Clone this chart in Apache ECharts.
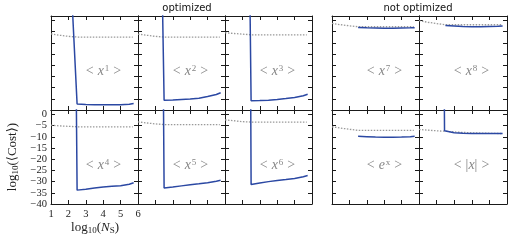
<!DOCTYPE html>
<html><head><meta charset="utf-8">
<script src="https://cdn.jsdelivr.net/npm/echarts@6/dist/echarts.min.js"></script>
<style>html,body{margin:0;padding:0;background:#fff}#c{width:512px;height:241px}</style>
</head><body><div id="c"></div>
<script>
// ---------- data ----------
const groupTitles = ['optimized', 'not optimized'];
const xTickValues = [1, 2, 3, 4, 5, 6];
const yTickValues = [0, -5, -10, -15, -20, -25, -30, -35, -40];
// panel order: top row (x1,x2,x3 | x7,x8), bottom row (x4,x5,x6 | e^x,|x|)
const panelBase = ['x', 'x', 'x', 'x', 'x', 'x', 'x', 'x', 'e', '|x|'];
const panelPower = ['1', '2', '3', '7', '8', '4', '5', '6', 'x', ''];

const dottedX = [1, 1.5, 2, 2.5, 3, 3.5, 4, 4.5, 5, 5.5, 5.7];
const dotted_x1 = [-6.0, -6.6, -7.1, -7.4, -7.4, -7.4, -7.4, -7.4, -7.4, -7.4, -7.4];
const dotted_x2 = [-6.1, -6.6, -7.1, -7.4, -7.4, -7.4, -7.4, -7.4, -7.4, -7.4, -7.4];
const dotted_x3 = [-5.5, -5.8, -6.1, -6.4, -6.4, -6.4, -6.4, -6.4, -6.4, -6.4, -6.4];
const dotted_x7 = [-1.3, -1.9, -2.4, -2.8, -2.8, -2.8, -2.8, -2.8, -2.8, -2.8, -2.8];
const dotted_x8 = [-0.1, -0.8, -1.4, -1.9, -1.9, -1.9, -1.9, -1.9, -1.9, -1.9, -1.9];
const dotted_x4 = [-4.8, -5.1, -5.3, -5.5, -5.5, -5.5, -5.5, -5.5, -5.5, -5.5, -5.5];
const dotted_x5 = [-3.3, -3.8, -4.2, -4.5, -4.5, -4.5, -4.5, -4.5, -4.5, -4.5, -4.5];
const dotted_x6 = [-2.4, -2.8, -3.2, -3.4, -3.4, -3.4, -3.4, -3.4, -3.4, -3.4, -3.4];
const dotted_ex = [-5.5, -6.1, -6.6, -7.1, -7.1, -7.1, -7.1, -7.1, -7.1, -7.1, -7.1];
const dotted_abs = [-6.7, -7.0, -7.3, -7.5, -7.8, -8.0, -8.2, -8.3, -8.4, -8.5, -8.5];

const blueX = [2.5, 3, 3.5, 4, 4.5, 5, 5.5, 5.75];
const blue_x1 = [-37.3, -37.5, -37.6, -37.7, -37.7, -37.6, -37.4, -37.1];
const blue_x2 = [-35.6, -35.5, -35.3, -35.1, -34.7, -34.0, -33.1, -32.3];
const blue_x3 = [-35.9, -35.8, -35.6, -35.3, -34.9, -34.4, -33.6, -33.0];
const blue_x7 = [-3.1, -3.3, -3.4, -3.5, -3.5, -3.4, -3.3, -3.2];
const blue_x8 = [-2.3, -2.5, -2.7, -2.8, -2.8, -2.7, -2.6, -2.5];
const blue_x4 = [-33.8, -33.4, -32.9, -32.4, -32.1, -31.8, -31.2, -30.5];
const blue_x5 = [-32.8, -32.4, -31.9, -31.4, -31.0, -30.5, -29.8, -29.4];
const blue_x6 = [-31.3, -30.6, -30.0, -29.5, -29.1, -28.6, -27.8, -27.3];
const blue_ex = [-9.7, -9.9, -10.1, -10.2, -10.2, -10.1, -9.9, -9.7];
const blue_abs = [-7.6, -8.2, -8.4, -8.5, -8.5, -8.5, -8.5, -8.5];
// first (off-scale) points of the blue curves, before the drop
const blueStart_x1 = [[2.2, 10]];
const blueStart_x2 = [[2.4, 10.3]];
const blueStart_x3 = [[2.4, 32]];
const blueStart_x7 = [];
const blueStart_x8 = [];
const blueStart_x4 = [[2.44, 20]];
const blueStart_x5 = [[2.45, 20]];
const blueStart_x6 = [[2.47, 20]];
const blueStart_ex = [];
const blueStart_abs = [[2.44, 5], [2.45, -7.3]];

const dottedSets = [dotted_x1, dotted_x2, dotted_x3, dotted_x7, dotted_x8, dotted_x4, dotted_x5, dotted_x6, dotted_ex, dotted_abs];
const blueSets = [blue_x1, blue_x2, blue_x3, blue_x7, blue_x8, blue_x4, blue_x5, blue_x6, blue_ex, blue_abs];
const blueStarts = [blueStart_x1, blueStart_x2, blueStart_x3, blueStart_x7, blueStart_x8, blueStart_x4, blueStart_x5, blueStart_x6, blueStart_ex, blueStart_abs];

// ---------- layout ----------
const colLeft = [51, 138, 225, 332, 419];
const colW = [87, 87, 87, 87, 88];
const rowTop = [16, 110];
const rowH = 94;
const AX = '#1a1a1a';
const SERIF = 'Liberation Serif, DejaVu Serif, serif';
const LBL = '#858585';

const grids = [], xAxes = [], yAxes = [], series = [], graphics = [];
for (let i = 0; i < 10; i++) {
  const r = Math.floor(i / 5), c = i % 5;
  grids.push({left: colLeft[c], top: rowTop[r], width: colW[c], height: rowH, containLabel: false, outerBoundsMode: 'none', show: false});
  const labeled = (i === 5);
  const lab = {show: labeled, fontFamily: SERIF, fontSize: 10.5, color: '#222', margin: 5};
  const common = {type: 'value', gridIndex: i, min: 1, max: 6, interval: 1,
    axisLine: {show: true, onZero: false, lineStyle: {color: AX, width: 1}},
    axisTick: {show: true, inside: true, length: 4, lineStyle: {color: AX, width: 1}},
    splitLine: {show: false}};
  xAxes.push(Object.assign({}, common, {position: 'bottom', axisLabel: Object.assign({}, lab, {showMinLabel: true, showMaxLabel: true, formatter: v => xTickValues.includes(v) ? String(v) : ''})}));
  xAxes.push(Object.assign({}, common, {position: 'top', axisLabel: {show: false}}));
  const ycommon = Object.assign({}, common, {min: -40, max: 2, interval: 5});
  yAxes.push(Object.assign({}, ycommon, {position: 'left', axisLabel: Object.assign({}, lab, {margin: 4, formatter: v => yTickValues.includes(v) ? (v < 0 ? '\u2212' + (-v) : String(v)) : ''})}));
  yAxes.push(Object.assign({}, ycommon, {position: 'right', axisLabel: {show: false}}));

  series.push({type: 'line', xAxisIndex: 2 * i, yAxisIndex: 2 * i, showSymbol: false, silent: true, clip: true,
    data: dottedX.map((x, k) => [x, dottedSets[i][k]]),
    lineStyle: {color: '#999', width: 1.3, type: [1.5, 1.5]}});
  series.push({type: 'line', xAxisIndex: 2 * i, yAxisIndex: 2 * i, showSymbol: false, silent: true, clip: true,
    data: blueStarts[i].concat(blueX.map((x, k) => [x, blueSets[i][k]])),
    lineStyle: {color: '#2b48a3', width: 1.5}});

  const base = panelBase[i], pw = panelPower[i];
  let txt;
  if (base === '|x|') txt = '{r|<}{n||}{m|x}{n||}{q|>}';
  else txt = '{r|<}{m|' + base + '}{s|' + pw + '}{q|>}';
  graphics.push({type: 'text', x: colLeft[c] + 52.5, y: rowTop[r] + 55,
    style: {text: txt, fill: LBL, align: 'center', verticalAlign: 'middle',
      rich: {
        r: {fontFamily: SERIF, fontSize: 14, fill: LBL, padding: [0, 4, 0, 0]},
        q: {fontFamily: SERIF, fontSize: 14, fill: LBL, padding: [0, 0, 0, 4]},
        n: {fontFamily: SERIF, fontSize: 14, fill: LBL},
        m: {fontFamily: SERIF, fontStyle: 'italic', fontSize: 14, fill: LBL},
        s: {fontFamily: SERIF, fontSize: 9, fill: LBL, verticalAlign: 'top', lineHeight: 8, padding: [0, 0, 0, 1]}
      }}});
}

graphics.push({type: 'text', x: 187, y: 8, style: {text: groupTitles[0], font: '10px DejaVu Sans', fill: '#111', align: 'center', verticalAlign: 'middle'}});
graphics.push({type: 'text', x: 418, y: 8, style: {text: groupTitles[1], font: '10px DejaVu Sans', fill: '#111', align: 'center', verticalAlign: 'middle'}});
// x axis title
graphics.push({type: 'text', x: 95, y: 228, style: {text: '{a|log}{b|10}{a|(}{i|N}{b|S}{a|)}', align: 'center', verticalAlign: 'middle',
  rich: {a: {fontFamily: SERIF, fontSize: 13, fill: '#222', lineHeight: 14},
         i: {fontFamily: SERIF, fontStyle: 'italic', fontSize: 13, fill: '#222', lineHeight: 14},
         b: {fontFamily: SERIF, fontSize: 9, fill: '#222', verticalAlign: 'bottom', lineHeight: 6}}}});
// y axis title
graphics.push({type: 'text', x: 13, y: 157, rotation: Math.PI / 2, style: {text: '{a|log}{b|10}{a|(\u27e8Cost\u27e9)}', align: 'center', verticalAlign: 'middle',
  rich: {a: {fontFamily: SERIF, fontSize: 13, fill: '#222', lineHeight: 14},
         b: {fontFamily: SERIF, fontSize: 9, fill: '#222', verticalAlign: 'bottom', lineHeight: 6}}}});

const chart = echarts.init(document.getElementById('c'), null, {renderer: 'canvas'});
chart.setOption({animation: false, backgroundColor: '#fff', grid: grids, xAxis: xAxes, yAxis: yAxes, series: series, graphic: graphics});
</script></body></html>
